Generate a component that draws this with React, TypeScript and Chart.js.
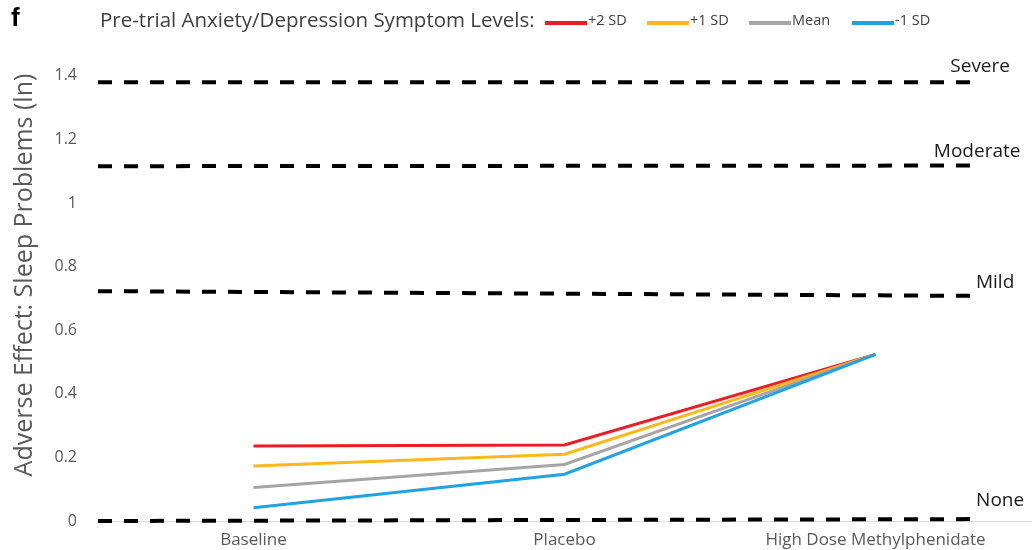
import React, { useEffect, useRef } from 'react';
import { Chart, registerables } from 'chart.js';

Chart.register(...registerables);

// ---- Data ----
const categories = ['Baseline', 'Placebo', 'High Dose Methylphenidate'];
const seriesLabels = ['+2 SD', '+1 SD', 'Mean', '-1 SD'];
const plus2SD = [0.236, 0.239, 0.524];
const plus1SD = [0.173, 0.21, 0.524];
const meanLevel = [0.105, 0.178, 0.524];
const minus1SD = [0.042, 0.147, 0.524];
const seriesColors = ['#ed1c24', '#ffb71b', '#a5a5a5', '#1fa3e1'];

const levelNames = ['Severe', 'Moderate', 'Mild', 'None'];
const levelStartValues = [1.38, 1.116, 0.723, 0.0];
const levelEndValues = [1.38, 1.118, 0.708, 0.006];
const levelXStart = -0.5;
const levelXEnd = 2.33;

const yTickValues = [0, 0.2, 0.4, 0.6, 0.8, 1, 1.2, 1.4];
const yTitle = 'Adverse Effect: Sleep Problems (ln)';
const legendTitle = 'Pre-trial Anxiety/Depression Symptom Levels:';
const panelLetter = 'f';

const FONT = '"Open Sans", Lato, sans-serif';

export default function App() {
  const ref = useRef<HTMLCanvasElement | null>(null);

  useEffect(() => {
    document.body.style.margin = '0';
    const canvas = ref.current;
    if (!canvas) return;

    const seriesData = [plus2SD, plus1SD, meanLevel, minus1SD];
    const seriesSets = seriesData.map((vals, si) => ({
      label: seriesLabels[si],
      data: vals.map((v, i) => ({ x: i, y: v })),
      borderColor: seriesColors[si],
      backgroundColor: seriesColors[si],
      borderWidth: 3,
      pointRadius: 0,
      tension: 0,
      clip: false as any,
      order: 10 - si,
    }));
    const levelSets = levelNames.map((name, li) => ({
      label: name,
      data: [
        { x: levelXStart, y: levelStartValues[li] },
        { x: levelXEnd, y: levelEndValues[li] },
      ],
      borderColor: '#000000',
      borderWidth: 4,
      borderDash: [14, 12],
      pointRadius: 0,
      clip: false as any,
      isLevel: true,
      order: 0,
    }));

    const labelOffsets: Record<string, [number, number]> = {
      Severe: [2, -16],
      Moderate: [-1, -14],
      Mild: [17, -13],
      None: [22, -18],
    };

    const decorations = {
      id: 'decorations',
      afterDraw(chart: any) {
        const ctx = chart.ctx as CanvasRenderingContext2D;
        ctx.save();
        // panel letter
        ctx.fillStyle = '#000';
        ctx.font = `bold 26px "Liberation Sans", Arial, sans-serif`;
        ctx.textAlign = 'left';
        ctx.textBaseline = 'middle';
        ctx.fillText(panelLetter, 11, 19);

        // legend title
        ctx.fillStyle = '#404040';
        ctx.font = `20.5px ${FONT}`;
        ctx.fillText(legendTitle, 100, 21);

        // legend items
        const itemX = [545, 647, 749, 852];
        ctx.font = `14.5px ${FONT}`;
        chart.data.datasets.forEach((ds: any, i: number) => {
          if (ds.isLevel) return;
          const x = itemX[i];
          ctx.strokeStyle = ds.borderColor;
          ctx.lineWidth = 4;
          ctx.beginPath();
          ctx.moveTo(x, 23);
          ctx.lineTo(x + 42, 23);
          ctx.stroke();
          ctx.fillStyle = '#404040';
          ctx.fillText(ds.label, x + 43, 21);
        });

        // level labels
        const xs = chart.scales.x;
        const ys = chart.scales.y;
        ctx.fillStyle = '#1a1a1a';
        ctx.font = `19px ${FONT}`;
        ctx.textAlign = 'center';
        levelNames.forEach((name, li) => {
          const px = xs.getPixelForValue(levelXEnd);
          const py = ys.getPixelForValue(levelEndValues[li]);
          const [dx, dy] = labelOffsets[name];
          ctx.fillText(name, px + dx, py + dy);
        });

        // y axis title
        ctx.fillStyle = '#595959';
        ctx.font = `25px ${FONT}`;
        ctx.translate(25, 275);
        ctx.rotate(-Math.PI / 2);
        ctx.textAlign = 'center';
        ctx.fillText(yTitle, 0, 0);
        ctx.restore();
      },
    };

    const chart = new Chart(canvas, {
      type: 'line',
      data: { datasets: [...seriesSets, ...levelSets] as any },
      options: {
        animation: false,
        responsive: false,
        layout: { padding: { top: 60, left: 8, right: 2, bottom: 0 } },
        plugins: { legend: { display: false }, tooltip: { enabled: false } },
        scales: {
          x: {
            type: 'linear',
            min: -0.5,
            max: 2.5,
            grid: { display: false },
            border: { display: true, color: '#d9d9d9', width: 1 },
            afterBuildTicks: (scale: any) => {
              scale.ticks = categories.map((_, i) => ({ value: i }));
            },
            afterFit: (scale: any) => {
              scale.height = 29;
            },
            ticks: {
              autoSkip: false,
              maxRotation: 0,
              padding: 1,
              color: '#595959',
              font: { family: FONT, size: 17 },
              callback: (v: any) => categories[Number(v)] ?? '',
            },
          },
          y: {
            type: 'linear',
            min: 0,
            max: 1.45,
            grid: { display: false },
            border: { display: false },
            afterBuildTicks: (scale: any) => {
              scale.ticks = yTickValues.map((v) => ({ value: v }));
            },
            afterFit: (scale: any) => {
              scale.width = 90;
            },
            ticks: {
              padding: 13,
              color: '#595959',
              font: { family: FONT, size: 16 },
              callback: (v: any) => String(v),
            },
          },
        },
      },
      plugins: [decorations],
    });

    return () => chart.destroy();
  }, []);

  return <canvas ref={ref} width={1033} height={550} />;
}
